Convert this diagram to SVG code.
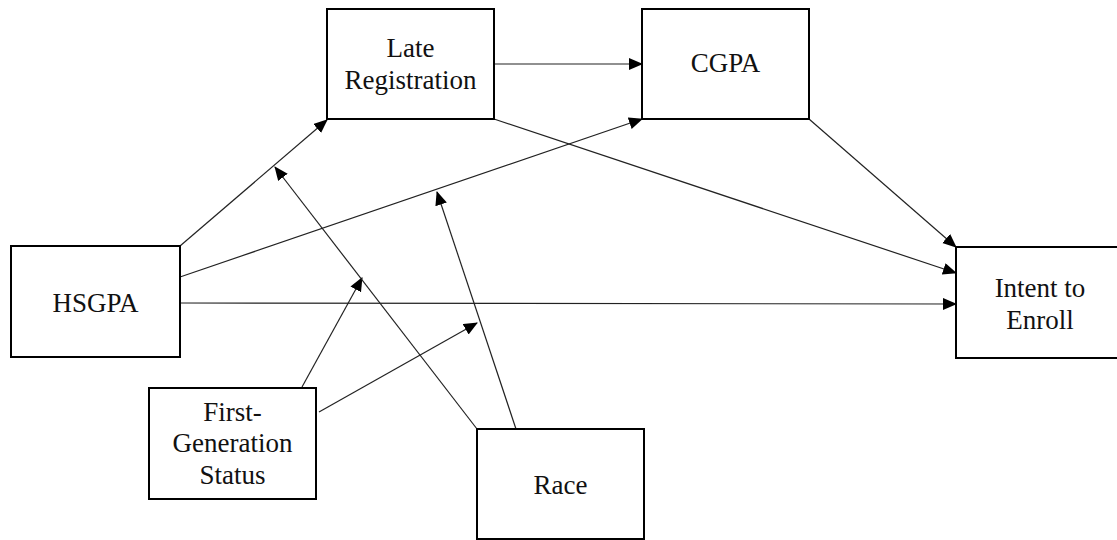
<svg xmlns="http://www.w3.org/2000/svg" width="1117" height="540" viewBox="0 0 1117 540">
<style>
.box{fill:#fff;stroke:#000;stroke-width:2}
.lbl{font-family:"Liberation Serif","Times New Roman",serif;font-size:27px;fill:#111;text-anchor:middle}
.edge{stroke:#222;stroke-width:1.2;fill:none;marker-end:url(#ah)}
</style>
<defs>
<marker id="ah" markerUnits="userSpaceOnUse" markerWidth="15" markerHeight="13" refX="13" refY="6" orient="auto">
<path d="M0,0 L14,6 L0,12 z" fill="#000"/>
</marker>
</defs>
<rect width="1117" height="540" fill="#fff"/>
<g id="connectors">
<line class="edge" x1="494" y1="64" x2="642" y2="64"/>
<line class="edge" x1="494" y1="119" x2="956" y2="273"/>
<line class="edge" x1="809" y1="119" x2="956" y2="247"/>
<line class="edge" x1="180" y1="246" x2="327" y2="120"/>
<line class="edge" x1="180" y1="277" x2="642" y2="119"/>
<line class="edge" x1="180" y1="303" x2="956" y2="304"/>
<line class="edge" x1="302" y1="387" x2="362" y2="278"/>
<line class="edge" x1="319" y1="412" x2="477" y2="323"/>
<line class="edge" x1="477" y1="429" x2="275" y2="167"/>
<line class="edge" x1="516" y1="429" x2="437" y2="192"/>
</g>
<g id="late-registration">
<rect class="box" x="327" y="9" width="167" height="110"/>
<text class="lbl" x="410.5" y="57">Late</text>
<text class="lbl" x="410.5" y="89">Registration</text>
</g>
<g id="cgpa">
<rect class="box" x="642" y="9" width="167" height="110"/>
<text class="lbl" x="725.5" y="72">CGPA</text>
</g>
<g id="hsgpa">
<rect class="box" x="11" y="246" width="169" height="111"/>
<text class="lbl" x="95.5" y="312">HSGPA</text>
</g>
<g id="first-generation">
<rect class="box" x="149" y="388" width="167" height="111"/>
<text class="lbl" x="232.5" y="421">First-</text>
<text class="lbl" x="232.5" y="452">Generation</text>
<text class="lbl" x="232.5" y="484">Status</text>
</g>
<g id="race">
<rect class="box" x="477" y="429" width="167" height="110"/>
<text class="lbl" x="560.5" y="494">Race</text>
</g>
<g id="intent-to-enroll">
<rect class="box" x="956" y="247" width="170" height="111"/>
<text class="lbl" x="1040" y="297">Intent to</text>
<text class="lbl" x="1040" y="329">Enroll</text>
</g>
</svg>
